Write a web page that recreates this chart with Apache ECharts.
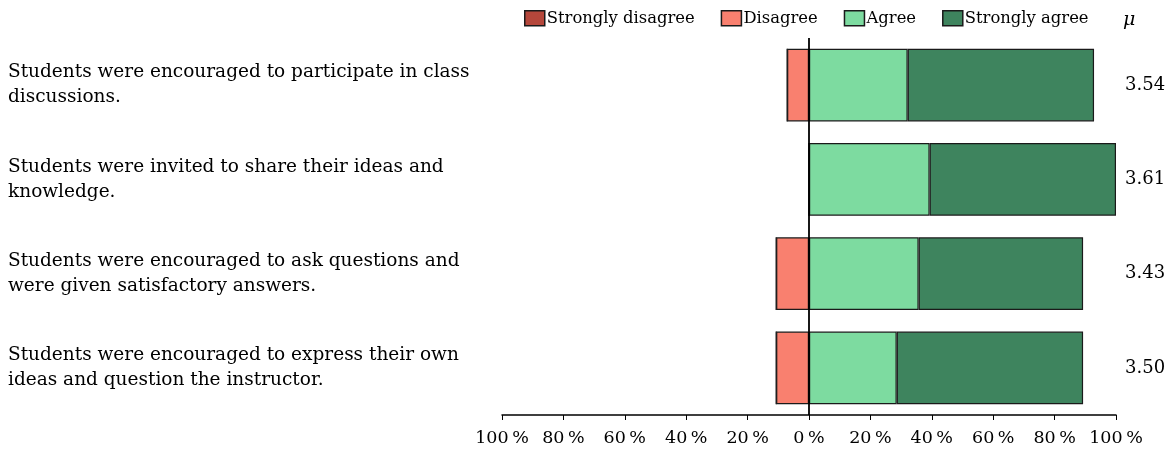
<!DOCTYPE html>
<html>
<head>
<meta charset="utf-8">
<script src="https://cdn.jsdelivr.net/npm/echarts@6/dist/echarts.min.js"></script>
<style>
  html, body { margin: 0; padding: 0; background: #fff; }
  #chart { width: 1170px; height: 451px; }
</style>
</head>
<body>
<div id="chart"></div>
<script>
// 题目（从上到下）
const questions = [
    'Students were encouraged to participate in class\ndiscussions.',
    'Students were invited to share their ideas and\nknowledge.',
    'Students were encouraged to ask questions and\nwere given satisfactory answers.',
    'Students were encouraged to express their own\nideas and question the instructor.'
];

// 各选项百分比
const stronglyDisagree = [0, 0, 0, 0];
const disagree = [7.14, 0, 10.71, 10.71];
const agree = [32.14, 39.29, 35.71, 28.57];
const stronglyAgree = [60.71, 60.71, 53.57, 60.71];

// 平均分
const means = ['3.54', '3.61', '3.43', '3.50'];

// x轴刻度
const xTicks = [-100, -80, -60, -40, -20, 0, 20, 40, 60, 80, 100];

const FONT = 'DejaVu Serif';
const chart = echarts.init(document.getElementById('chart'));

function barSeries(name, data, color, negative) {
    return {
        name: name,
        type: 'bar',
        stack: 'total',
        barCategoryGap: '23%',
        data: negative ? data.map(v => -v) : data,
        itemStyle: {
            color: color,
            borderColor: '#1a1a1a',
            borderWidth: 1.2
        },
        emphasis: { disabled: true }
    };
}

const series = [
    barSeries('Disagree', disagree, '#f9806f', true),
    barSeries('Strongly disagree', stronglyDisagree, '#b5473b', true),
    barSeries('Agree', agree, '#7ddba0', false),
    barSeries('Strongly agree', stronglyAgree, '#3e845e', false)
];

// 零线
series[2].markLine = {
    silent: true,
    symbol: 'none',
    label: { show: false },
    lineStyle: { color: '#000', width: 1.8, type: 'solid' },
    data: [{ xAxis: 0 }]
};

chart.setOption({
    animation: false,
    textStyle: { fontFamily: FONT },
    title: {
        text: 'μ',
        left: 1118,
        top: 6,
        textStyle: { fontFamily: FONT, fontSize: 19, fontStyle: 'italic', fontWeight: 'normal', color: '#000' }
    },
    legend: {
        data: ['Strongly disagree', 'Disagree', 'Agree', 'Strongly agree'],
        left: 519,
        top: 5,
        padding: 5,
        icon: 'rect',
        itemWidth: 20,
        itemHeight: 15,
        itemGap: 26,
        itemStyle: { borderColor: '#1a1a1a', borderWidth: 1.5 },
        textStyle: { fontFamily: FONT, fontSize: 16.4, color: '#000', padding: [0, 0, 0, -3] }
    },
    grid: {
        left: 502,
        right: 54,
        top: 38,
        bottom: 36,
        containLabel: false
    },
    xAxis: {
        type: 'value',
        min: -100,
        max: 100,
        interval: 20,
        axisLine: { show: true, lineStyle: { color: '#000', width: 1.5 } },
        axisTick: { show: true, length: 5, lineStyle: { color: '#000' } },
        splitLine: { show: false },
        axisLabel: {
            color: '#000',
            fontFamily: FONT,
            fontSize: 17.5,
            margin: 14,
            formatter: v => Math.abs(v) + '\u2009%'
        },
        customValues: xTicks
    },
    yAxis: [
        {
            type: 'category',
            inverse: true,
            data: questions,
            position: 'left',
            axisLine: { show: false },
            axisTick: { show: false },
            axisLabel: {
                align: 'left',
                margin: 494,
                color: '#000',
                fontFamily: FONT,
                fontSize: 18.5,
                lineHeight: 25
            }
        },
        {
            type: 'category',
            inverse: true,
            data: means,
            position: 'right',
            axisLine: { show: false },
            axisTick: { show: false },
            axisLabel: {
                align: 'left',
                margin: 9,
                color: '#000',
                fontFamily: FONT,
                fontSize: 18
            }
        }
    ],
    series: series
});
</script>
</body>
</html>
